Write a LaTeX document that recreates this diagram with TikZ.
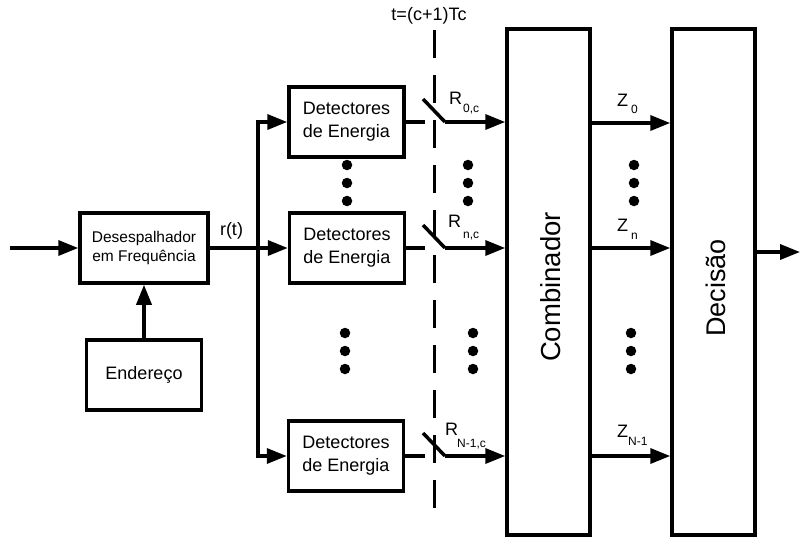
\documentclass[tikz,border=0pt]{standalone}
\usepackage{fontspec}
\setmainfont{Liberation Sans}
\usetikzlibrary{arrows.meta}
\begin{document}
\begin{tikzpicture}[x=1pt,y=-1pt,
  blk/.style={draw,line width=3.5pt,inner sep=0pt,align=center},
  detbox/.style={blk,minimum width=115pt,minimum height=70pt,font=\fontsize{18}{23}\selectfont},
  bigbox/.style={blk,minimum width=83pt,minimum height=506pt},
  ln/.style={line width=3.5pt},
  arr/.style={line width=3.5pt,-{Triangle[length=20pt,width=15pt]}},
  dotn/.style={circle,fill,inner sep=0pt,minimum size=10.5pt},
  txt/.style={inner sep=0pt,font=\fontsize{18}{22}\selectfont}]
\useasboundingbox (0,0) rectangle (800,539);
% blocks
\node[blk,minimum width=128pt,minimum height=70pt,font=\fontsize{15.5}{18.5}\selectfont] (des) at (144,248) {Desespalhador\\em Frequência};
\node[blk,minimum width=115pt,minimum height=70pt,font=\fontsize{18}{22}\selectfont] (end) at (144,375) {Endereço};
\node[detbox] (d0) at (346.5,122) {Detectores\\de Energia};
\node[detbox] (d1) at (347,248) {Detectores\\de Energia};
\node[detbox] (d2) at (346,456) {Detectores\\de Energia};
\node[bigbox] (comb) at (548.5,282) {};
\node[txt,rotate=90,font=\fontsize{27.5}{30}\selectfont] (combt) at (551,287) {Combinador};
\node[bigbox] (dec) at (713.5,282) {};
\node[txt,rotate=90,font=\fontsize{27}{30}\selectfont] (dect) at (716,288) {Decisão};
% input and address
\coordinate (in) at (10,248);
\draw[arr] (in) -- (des);
\draw[arr] (end) -- (des);
% bus
\coordinate (bm) at (258,248);
\draw[ln] (des.east) -- (bm);
\draw[arr] (bm) |- (d0);
\draw[arr] (bm) -- (d1);
\draw[arr] (bm) |- (d2);
\node[txt,anchor=base] (rt) at (231.5,235) {r(t)};
% sampling line
\coordinate (dt) at (434,30);
\coordinate (db) at (434,515);
\draw[ln,line width=3pt,dash pattern=on 28pt off 17pt] (dt) -- (db);
\node[txt,anchor=base] (tl) at (429,20) {t=(c+1)Tc};
% switches
\coordinate (s0a) at (425,122); \coordinate (s0b) at (423,99); \coordinate (s0c) at (445,122);
\coordinate (s1a) at (425,248); \coordinate (s1b) at (423,225); \coordinate (s1c) at (445,248);
\coordinate (s2a) at (425,456); \coordinate (s2b) at (423,433); \coordinate (s2c) at (445,456);
\draw[ln] (d0) -- (s0a); \draw[ln] (s0b) -- (s0c); \draw[arr] (s0c) -- (s0c -| comb.west);
\draw[ln] (d1) -- (s1a); \draw[ln] (s1b) -- (s1c); \draw[arr] (s1c) -- (s1c -| comb.west);
\draw[ln] (d2) -- (s2a); \draw[ln] (s2b) -- (s2c); \draw[arr] (s2c) -- (s2c -| comb.west);
\node[txt,anchor=base west] (r0) at (449,104) {R\kern1pt\raisebox{-8pt}{\fontsize{12}{12}\selectfont 0,c}};
\node[txt,anchor=base west] (r1) at (448,227) {R\kern2pt\raisebox{-11pt}{\fontsize{12}{12}\selectfont n,c}};
\node[txt,anchor=base west] (r2) at (445,435) {R\kern-1pt\raisebox{-12pt}{\fontsize{12}{12}\selectfont N-1,c}};
% Z outputs
\coordinate (z0) at (590,123); \coordinate (z1) at (590,248); \coordinate (z2) at (590,456);
\draw[arr] (z0) -- (z0 -| dec.west);
\draw[arr] (z1) -- (z1 -| dec.west);
\draw[arr] (z2) -- (z2 -| dec.west);
\node[txt,anchor=base west] (zl0) at (617,106) {Z\kern3pt\raisebox{-7pt}{\fontsize{12}{12}\selectfont 0}};
\node[txt,anchor=base west] (zl1) at (617,231) {Z\kern3pt\raisebox{-8pt}{\fontsize{12}{12}\selectfont n}};
\node[txt,anchor=base west] (zl2) at (617,437) {Z\kern0pt\raisebox{-8pt}{\fontsize{12}{12}\selectfont N-1}};
% output
\coordinate (out) at (800,252);
\draw[arr] (dec.east |- out) -- (out);
% dots
\foreach \x/\n in {347/a,468/b,634/c}{
  \node[dotn] (t\n1) at (\x,165) {};
  \node[dotn] (t\n2) at (\x,183) {};
  \node[dotn] (t\n3) at (\x,201) {};
}
\foreach \x/\n in {345/a,473/b,631/c}{
  \node[dotn] (m\n1) at (\x,333) {};
  \node[dotn] (m\n2) at (\x,351) {};
  \node[dotn] (m\n3) at (\x,369) {};
}
\end{tikzpicture}
\end{document}
